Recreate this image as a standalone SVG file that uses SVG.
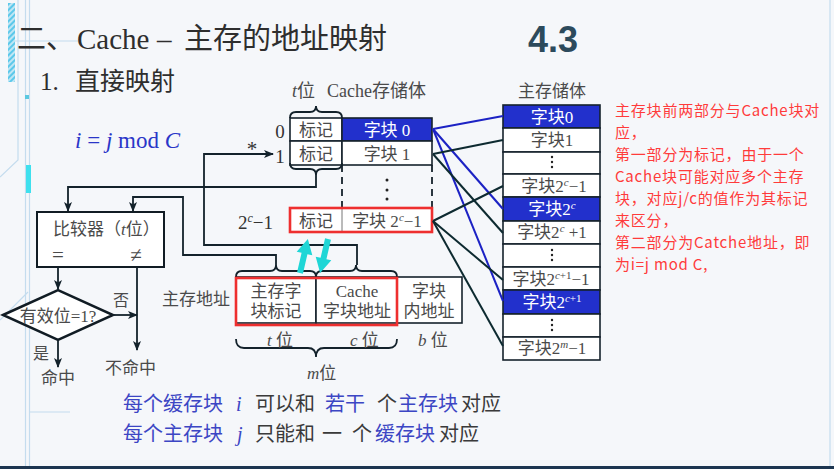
<svg xmlns="http://www.w3.org/2000/svg" width="834" height="469" viewBox="0 0 834 469">
<defs>
<style>
.cn{font-family:"Liberation Serif","Noto Sans CJK SC",serif;fill:#4a4a4a}
.it{font-style:italic}
.box{fill:#ffffff;stroke:#16222c;stroke-width:1.6}
.blue{fill:#2230cc;stroke:#16222c;stroke-width:1.6}
.ln{fill:none;stroke:#13222b;stroke-width:1.8}
.map{stroke:#0d2a30;stroke-width:2}
.mapb{stroke:#1c22c4;stroke-width:2}
.red{fill:none;stroke:#ee2f2f;stroke-width:2.6}
.wt{fill:#ffffff}
.dot{fill:#222}
.ann{font-family:"Noto Sans CJK SC",sans-serif;font-size:15px;letter-spacing:0.8px;fill:#ff3b3b}
.bt{font-family:"Liberation Serif","Noto Sans CJK SC",serif;font-size:20px}
.bl{fill:#3c46c4}
.gr{fill:#3a3a3a}
.deco{fill:none;stroke:#c4dcee;stroke-width:1.2}
.cy{fill:#1fd6d6}
</style>
<pattern id="hatch" width="4" height="4" patternUnits="userSpaceOnUse" patternTransform="rotate(45)">
<rect width="4" height="4" fill="#bfe6f4"/>
<rect width="2" height="4" fill="#5cc8ea"/>
</pattern>
<marker id="ah" viewBox="0 0 10 8" refX="9" refY="4" markerWidth="10" markerHeight="8" markerUnits="userSpaceOnUse" orient="auto">
<path d="M0,0 L10,4 L0,8 L2.5,4z" fill="#13222b"/>
</marker>
<path id="cyarrow" d="M-3,0 L-3,-20 L-8,-20 L0,-35 L8,-20 L3,-20 L3,0 Z"/>
</defs>

<rect x="0" y="0" width="834" height="469" fill="#f5f7fa"/>

<!-- decoration -->
<g id="decoration">
<rect x="8" y="3" width="7" height="79" fill="url(#hatch)"/>
<line class="deco" x1="25.5" y1="0" x2="25.5" y2="469"/>
<line class="deco" x1="29.5" y1="0" x2="29.5" y2="469" stroke="#d4e6f2"/>
<polyline class="deco" points="18,0 18,160 0,177"/>
<polyline class="deco" points="0,320 28,292"/>
<rect x="26" y="165" width="5" height="28" fill="#3ee0ee"/>
<rect x="25" y="95" width="4" height="4" fill="#5ac8e0"/>
<line class="deco" x1="15" y1="41" x2="78" y2="41"/>
<line class="deco" x1="30" y1="412" x2="70" y2="412"/>
<line class="deco" x1="830" y1="0" x2="830" y2="469" stroke="#dde6ee"/>
<rect x="0" y="466" width="834" height="3" fill="#1c3550"/>
</g>

<!-- titles -->
<g id="title">
<text x="17" y="49" font-size="29" fill="#2e2e2e" font-family="Liberation Serif,'Noto Sans CJK SC',serif">二、<tspan x="77">Cache</tspan><tspan x="157">–</tspan><tspan x="184">主存的地址映射</tspan></text>
<text x="40" y="90" font-size="25" fill="#2e2e2e" font-family="Liberation Serif,'Noto Sans CJK SC',serif">1.<tspan x="75">直接映射</tspan></text>
<text x="528" y="52" font-size="36" font-weight="bold" fill="#2c4a5c" font-family="Liberation Sans,Arial,sans-serif">4.3</text>
<text x="75" y="148" font-size="23" fill="#2a36c8" font-family="Liberation Serif,serif"><tspan class="it">i</tspan> = <tspan class="it">j</tspan> mod <tspan class="it">C</tspan></text>
</g>

<!-- cache storage -->
<g id="cache-store">
<text class="cn" x="292" y="97" font-size="18"><tspan class="it">t</tspan>位</text>
<text class="cn" x="327" y="97" font-size="18">Cache存储体</text>
<path class="ln" d="M290,118 Q290,112 296,112 L310,112 Q316,112 316,106 Q316,112 322,112 L336,112 Q342,112 342,118"/>
<rect class="box" x="290" y="118" width="52" height="23"/>
<rect class="blue" x="342" y="118" width="90" height="23"/>
<rect class="box" x="290" y="141" width="52" height="24"/>
<rect class="box" x="342" y="141" width="90" height="24"/>
<path class="ln" d="M290,163 Q290,169 296,169 L310,169 Q316,169 316,175 Q316,169 322,169 L336,169 Q342,169 342,163"/>
<line x1="342" y1="165" x2="342" y2="208" stroke="#16222c" stroke-width="1.8" stroke-dasharray="7,5"/>
<line x1="432" y1="165" x2="432" y2="208" stroke="#16222c" stroke-width="1.8" stroke-dasharray="7,5"/>
<circle class="dot" cx="387" cy="180" r="1.5"/>
<circle class="dot" cx="387" cy="190" r="1.5"/>
<circle class="dot" cx="387" cy="199" r="1.5"/>
<rect x="290" y="208" width="142" height="24" fill="#ffffff"/>
<line x1="342" y1="208" x2="342" y2="232" stroke="#777" stroke-width="1"/>
<rect class="red" x="290" y="208" width="142" height="24"/>
<text class="cn" x="316" y="136" font-size="17" text-anchor="middle">标记</text>
<text class="cn" x="387" y="136" font-size="17" text-anchor="middle" style="fill:#fff">字块 0</text>
<text class="cn" x="316" y="160" font-size="17" text-anchor="middle">标记</text>
<text class="cn" x="387" y="160" font-size="17" text-anchor="middle">字块 1</text>
<text class="cn" x="316" y="227" font-size="17" text-anchor="middle">标记</text>
<text class="cn" x="387" y="227" font-size="17" text-anchor="middle">字块 2<tspan dy="-6" font-size="11" class="it">c</tspan><tspan dy="6">−1</tspan></text>
<text class="cn" x="280" y="138" font-size="19" text-anchor="middle" style="fill:#333">0</text>
<text class="cn" x="280" y="163" font-size="19" text-anchor="middle" style="fill:#333">1</text>
<text class="cn" x="252" y="156" font-size="21" text-anchor="middle" style="fill:#333">*</text>
<text class="cn" x="238" y="229" font-size="19" style="fill:#333">2<tspan dy="-7" font-size="12" class="it">c</tspan><tspan dy="7">−1</tspan></text>
</g>

<!-- main storage -->
<g id="main-store">
<text class="cn" x="552" y="97" font-size="17" text-anchor="middle">主存储体</text>
<rect class="blue" x="503" y="105" width="97" height="23"/>
<rect class="box" x="503" y="128" width="97" height="24"/>
<rect class="box" x="503" y="152" width="97" height="22"/>
<rect class="box" x="503" y="174" width="97" height="23"/>
<rect class="blue" x="503" y="197" width="97" height="24"/>
<rect class="box" x="503" y="221" width="97" height="23"/>
<rect class="box" x="503" y="244" width="97" height="23"/>
<rect class="box" x="503" y="267" width="97" height="23"/>
<rect class="blue" x="503" y="290" width="97" height="24"/>
<rect class="box" x="503" y="314" width="97" height="23"/>
<rect class="box" x="503" y="337" width="97" height="23"/>
<text class="cn" x="552" y="123" font-size="17" text-anchor="middle" style="fill:#fff">字块0</text>
<text class="cn" x="552" y="146" font-size="17" text-anchor="middle">字块1</text>
<circle class="dot" cx="552" cy="157" r="1.2"/><circle class="dot" cx="552" cy="162" r="1.2"/><circle class="dot" cx="552" cy="167" r="1.2"/>
<text class="cn" x="554" y="192" font-size="17" text-anchor="middle">字块2<tspan dy="-6" font-size="11" class="it">c</tspan><tspan dy="6">−1</tspan></text>
<text class="cn" x="552" y="215" font-size="17" text-anchor="middle" style="fill:#fff">字块2<tspan dy="-6" font-size="11" class="it">c</tspan></text>
<text class="cn" x="552" y="238" font-size="17" text-anchor="middle">字块2<tspan dy="-6" font-size="11" class="it">c</tspan><tspan dy="6"> +1</tspan></text>
<circle class="dot" cx="552" cy="250" r="1.2"/><circle class="dot" cx="552" cy="255" r="1.2"/><circle class="dot" cx="552" cy="260" r="1.2"/>
<text class="cn" x="551" y="285" font-size="17" text-anchor="middle">字块2<tspan dy="-6" font-size="11"><tspan class="it">c</tspan>+1</tspan><tspan dy="6">−1</tspan></text>
<text class="cn" x="552" y="308" font-size="17" text-anchor="middle" style="fill:#fff">字块2<tspan dy="-6" font-size="11"><tspan class="it">c</tspan>+1</tspan></text>
<circle class="dot" cx="552" cy="320" r="1.2"/><circle class="dot" cx="552" cy="325" r="1.2"/><circle class="dot" cx="552" cy="330" r="1.2"/>
<text class="cn" x="552" y="354" font-size="17" text-anchor="middle">字块2<tspan dy="-6" font-size="11" class="it">m</tspan><tspan dy="6">−1</tspan></text>
</g>

<!-- comparator -->
<g id="comparator">
<rect x="37" y="212" width="127" height="55" fill="#fff" stroke="#111c24" stroke-width="2"/>
<text class="cn" x="53" y="235" font-size="17">比较器（<tspan class="it">t</tspan>位）</text>
<text class="cn" x="58" y="262" font-size="21" text-anchor="middle">=</text>
<text class="cn" x="136" y="262" font-size="21" text-anchor="middle">≠</text>
</g>

<!-- valid-bit check -->
<g id="valid-check">
<polygon points="3,315 58,290 113,315 58,340" fill="#fff" stroke="#111c24" stroke-width="2.5"/>
<text class="cn" x="58" y="322" font-size="17" text-anchor="middle">有效位=1?</text>
</g>

<g id="outcomes">
<text class="cn" x="113" y="306" font-size="16">否</text>
<text class="cn" x="33" y="359" font-size="16">是</text>
<text class="cn" x="58" y="384" font-size="17" text-anchor="middle">命中</text>
<text class="cn" x="105" y="374" font-size="17">不命中</text>
</g>

<!-- main address -->
<g id="main-address">
<text class="cn" x="162" y="305" font-size="17">主存地址</text>
<path class="ln" d="M236,277 Q236,271 242,271 L270,271 Q276,271 276,265 Q276,271 282,271 L310,271 Q316,271 316,277"/>
<path class="ln" d="M316,277 Q316,271 322,271 L350,271 Q356,271 356,265 Q356,271 362,271 L391,271 Q397,271 397,277"/>
<rect class="box" x="236" y="277" width="80" height="46"/>
<rect class="box" x="316" y="277" width="81" height="46"/>
<rect class="box" x="397" y="277" width="65" height="46"/>
<rect class="red" x="236" y="278" width="161" height="47"/>
<text class="cn" x="276" y="297" font-size="17" text-anchor="middle">主存字</text>
<text class="cn" x="276" y="317" font-size="17" text-anchor="middle">块标记</text>
<text class="cn" x="357" y="297" font-size="17" text-anchor="middle">Cache</text>
<text class="cn" x="357" y="317" font-size="17" text-anchor="middle">字块地址</text>
<text class="cn" x="429" y="297" font-size="17" text-anchor="middle">字块</text>
<text class="cn" x="429" y="317" font-size="17" text-anchor="middle">内地址</text>
<path class="ln" d="M236,339 Q236,348 244,348 L308,348 Q316,348 316,357 Q316,348 324,348 L389,348 Q397,348 397,339"/>
<text class="cn" x="267" y="346" font-size="17"><tspan class="it">t</tspan> 位</text>
<text class="cn" x="350" y="346" font-size="17"><tspan class="it">c</tspan> 位</text>
<text class="cn" x="418" y="346" font-size="17"><tspan class="it">b</tspan> 位</text>
<text class="cn" x="307" y="379" font-size="17"><tspan class="it">m</tspan>位</text>
</g>

<!-- connectors -->
<g id="connectors">
<polyline class="ln" points="316,175 316,187 68,187 68,211" marker-end="url(#ah)"/>
<polyline class="ln" points="276,265 276,255 183,255 183,197 133,197 133,211" marker-end="url(#ah)"/>
<polyline class="ln" points="357,265 357,245 204,245 204,154 273,154" marker-end="url(#ah)"/>
<line class="ln" x1="58" y1="267" x2="58" y2="289" marker-end="url(#ah)"/>
<line class="ln" x1="137" y1="267" x2="137" y2="350" marker-end="url(#ah)"/>
<line class="ln" x1="113" y1="315" x2="137" y2="315" marker-end="url(#ah)"/>
<line class="ln" x1="58" y1="340" x2="58" y2="367" stroke-width="2.6" marker-end="url(#ah)"/>
<line class="mapb" x1="433" y1="129" x2="503" y2="116"/>
<line class="mapb" x1="433" y1="129" x2="503" y2="209"/>
<line class="mapb" x1="433" y1="129" x2="503" y2="301"/>
<line class="map" x1="433" y1="154" x2="503" y2="140"/>
<line class="map" x1="433" y1="154" x2="503" y2="233"/>
<line class="map" x1="433" y1="221" x2="503" y2="186"/>
<line class="map" x1="433" y1="221" x2="503" y2="280"/>
<line class="map" x1="433" y1="221" x2="503" y2="346"/>
<use href="#cyarrow" class="cy" transform="translate(300,273) rotate(13)"/>
<use href="#cyarrow" class="cy" transform="translate(328,239) rotate(193)"/>
</g>

<!-- annotation -->
<g id="annotation">
<text class="ann" x="615" y="116">主存块前两部分与Cache块对</text>
<text class="ann" x="615" y="138">应，</text>
<text class="ann" x="615" y="160">第一部分为标记，由于一个</text>
<text class="ann" x="615" y="182">Cache块可能对应多个主存</text>
<text class="ann" x="615" y="204">块，对应j/c的值作为其标记</text>
<text class="ann" x="615" y="226">来区分，</text>
<text class="ann" x="615" y="248">第二部分为Catche地址，即</text>
<text class="ann" x="615" y="270">为i=j mod C,</text>
</g>

<!-- bottom statements -->
<g id="statements">
<text class="bt" y="411"><tspan class="bl" x="123">每个缓存块</tspan><tspan class="bl it" x="236">i</tspan><tspan class="gr" x="255">可以和</tspan><tspan class="bl" x="325">若干</tspan><tspan class="gr" x="377">个</tspan><tspan class="bl" x="398">主存块</tspan><tspan class="gr" x="461">对应</tspan></text>
<text class="bt" y="441"><tspan class="bl" x="123">每个主存块</tspan><tspan class="bl it" x="237">j</tspan><tspan class="gr" x="255">只能和</tspan><tspan class="gr" x="322">一</tspan><tspan class="gr" x="352">个</tspan><tspan class="bl" x="375">缓存块</tspan><tspan class="gr" x="439">对应</tspan></text>
</g>
</svg>
